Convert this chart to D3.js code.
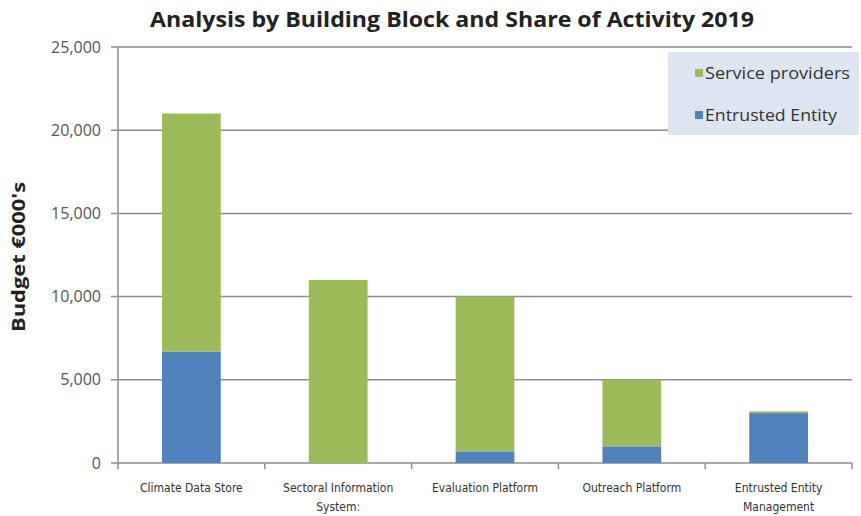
<!DOCTYPE html>
<html lang="en">
<head>
  <meta charset="UTF-8" />
  <title>Analysis by Building Block</title>
  <script src="https://d3js.org/d3.v7.min.js"></script>
  <style>
    body { margin: 0; background: #fff; font-family: 'Open Sans', sans-serif; }
    svg { display: block; }
  </style>
</head>
<body>
<div id="chart"></div>
<script>
const categories = [
  ["Climate Data Store"],
  ["Sectoral Information", "System:"],
  ["Evaluation Platform"],
  ["Outreach Platform"],
  ["Entrusted Entity", "Management"]
];
const entrusted = [6700, 0, 700, 1000, 3000];
const providers = [14300, 11000, 9300, 4000, 100];
const yTicks = [0, 5000, 10000, 15000, 20000, 25000];
const seriesNames = ["Service providers", "Entrusted Entity"];
const colors = { "Entrusted Entity": "#4f81bd", "Service providers": "#9bbb59" };

const W = 861, H = 516;
const margin = { top: 47, right: 9, bottom: 53, left: 118 };
const width = W - margin.left - margin.right;
const height = H - margin.top - margin.bottom;

const svg = d3.select("#chart").append("svg").attr("width", W).attr("height", H);
const g = svg.append("g").attr("transform", `translate(${margin.left},${margin.top})`);

const keys = categories.map(c => c.join(" "));
const x = d3.scaleBand().domain(keys).range([0, width]).paddingInner(0.6).paddingOuter(0.3);
const y = d3.scaleLinear().domain([0, 25000]).range([height, 0]);

// gridlines
g.append("g").selectAll("line").data(yTicks).enter().append("line")
  .attr("x1", -7).attr("x2", width)
  .attr("y1", d => y(d)).attr("y2", d => y(d))
  .attr("stroke", "#8c8c8c").attr("stroke-width", 1.5);

// y axis line
g.append("line").attr("x1", 0).attr("x2", 0).attr("y1", 0).attr("y2", height)
  .attr("stroke", "#8c8c8c").attr("stroke-width", 1.5);

// y tick labels
g.append("g").selectAll("text").data(yTicks).enter().append("text")
  .attr("x", -17).attr("y", d => y(d)).attr("dy", "0.35em")
  .attr("text-anchor", "end")
  .style("font-size", "16px").style("fill", "#555")
  .text(d => d3.format(",")(d));

// x category ticks
const xtick = d3.range(categories.length + 1).map(i => i * (width / categories.length));
g.append("g").selectAll("line").data(xtick).enter().append("line")
  .attr("x1", d => d).attr("x2", d => d).attr("y1", height).attr("y2", height + 6)
  .attr("stroke", "#8c8c8c").attr("stroke-width", 1.5);

// stacked bars
const rows = keys.map((k, i) => ({ key: k, "Entrusted Entity": entrusted[i], "Service providers": providers[i] }));
const stack = d3.stack().keys(["Entrusted Entity", "Service providers"])(rows);
g.append("g").selectAll("g").data(stack).enter().append("g")
  .attr("fill", d => colors[d.key])
  .selectAll("rect").data(d => d).enter().append("rect")
  .attr("x", d => x(d.data.key))
  .attr("width", x.bandwidth())
  .attr("y", d => y(d[1]))
  .attr("height", d => y(d[0]) - y(d[1]));

// x labels
const xl = g.append("g").selectAll("text").data(categories).enter().append("text")
  .attr("x", (d, i) => x(keys[i]) + x.bandwidth() / 2)
  .attr("y", height + 29)
  .attr("text-anchor", "middle")
  .style("font-family", "'Liberation Sans Narrow', 'DejaVu Sans Condensed', sans-serif")
  .style("font-size", "12px").style("fill", "#333");
xl.selectAll("tspan").data(d => d).enter().append("tspan")
  .attr("x", function () { return d3.select(this.parentNode).attr("x"); })
  .attr("dy", (d, i) => i === 0 ? 0 : 19)
  .text(d => d);

// title
svg.append("text").attr("x", 150).attr("y", 27)
  .attr("textLength", 604).attr("lengthAdjust", "spacingAndGlyphs")
  .style("font-size", "21px").style("font-weight", "bold").style("fill", "#222")
  .text("Analysis by Building Block and Share of Activity 2019");

// y axis title
svg.append("text").attr("transform", "translate(25,332) rotate(-90)")
  .attr("textLength", 150).attr("lengthAdjust", "spacingAndGlyphs")
  .style("font-size", "17px").style("font-weight", "bold").style("fill", "#222")
  .text("Budget €000's");

// legend
const lg = svg.append("g").attr("transform", "translate(668,52)");
lg.append("rect").attr("width", 191).attr("height", 83).attr("fill", "#dde6f0");
lg.selectAll("g").data(seriesNames).enter().append("g")
  .attr("transform", (d, i) => `translate(27,${21 + i * 42})`)
  .each(function (d, i) {
    const s = d3.select(this);
    s.append("rect").attr("x", 0).attr("y", -4).attr("width", 8).attr("height", 8).attr("fill", colors[d]);
    s.append("text").attr("x", 10).attr("dy", "0.35em")
      .attr("textLength", i === 0 ? 145 : 132).attr("lengthAdjust", "spacingAndGlyphs")
      .style("font-size", "16px").style("fill", "#333").text(d);
  });
</script>
</body>
</html>
